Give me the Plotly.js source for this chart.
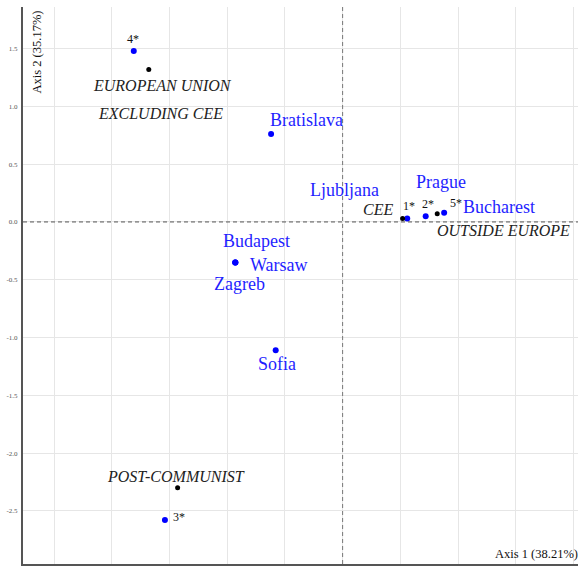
<!DOCTYPE html>
<html><head><meta charset="utf-8">
<script src="https://cdn.plot.ly/plotly-3.0.1.min.js"></script>
<style>body{margin:0;padding:0;background:#fff}#chart{width:578px;height:568px}</style>
</head><body><div id="chart"></div>
<script>
// Cities (blue points)
const cityNames = ["Bratislava","Ljubljana","Prague","Bucharest","Budapest","Warsaw","Zagreb","Sofia","",""];
const cityX = [-0.62, 0.56, 0.72, 0.88, -0.93, -0.93, -0.93, -0.58, -1.81, -1.54];
const cityY = [0.76, 0.03, 0.05, 0.08, -0.35, -0.35, -0.35, -1.11, 1.48, -2.58];
const cityStar = ["", "1*", "2*", "5*", "", "", "", "", "4*", "3*"];
// Categories (black points)
const catNames = ["EUROPEAN UNION<br>EXCLUDING CEE","CEE","OUTSIDE EUROPE","POST-COMMUNIST"];
const catX = [-1.68, 0.52, 0.82, -1.43];
const catY = [1.32, 0.03, 0.07, -2.30];
// Tick labels
const yTickVals = [1.5, 1.0, 0.5, 0.0, -0.5, -1.0, -1.5, -2.0, -2.5];
const yTickText = ["1.5","1.0","0.5","0.0","-0.5","-1.0","-1.5","-2.0","-2.5"];
const xTickVals = [-2.5,-2.0,-1.5,-1.0,-0.5,0.0,0.5,1.0,1.5,2.0];
const xTickText = ["-2.5","-2.0","-1.5","-1.0","-0.5","0.0","0.5","1.0","1.5","2.0"];
const axis1Title = "Axis 1 (38.21%)";
const axis2Title = "Axis 2 (35.17%)";

// label offsets (style, pixels)
const cityOff = {
  "Bratislava":[35,-14],"Ljubljana":[-63,-28],"Prague":[15,-34],"Bucharest":[55,-6],
  "Budapest":[21,-21],"Warsaw":[44,3],"Zagreb":[4,22],"Sofia":[1,14]
};
const starOff = {"1*":[2,-12],"2*":[2,-12],"5*":[12,-10],"4*":[-1,-12],"3*":[14,-3]};
const catOff = {"CEE":[-25,-9],"OUTSIDE EUROPE":[66,17],"POST-COMMUNIST":[-2,-11]};

const serif = "'Liberation Serif', 'Times New Roman', serif";
const annotations = [];
cityNames.forEach((n,i)=>{
  if(n){
    const o = cityOff[n];
    annotations.push({x:cityX[i],y:cityY[i],xref:'x',yref:'y',text:n,showarrow:false,
      xshift:o[0],yshift:-o[1],font:{family:serif,size:18,color:'#1f1fff'}});
  }
  const s = cityStar[i];
  if(s){
    const o = starOff[s];
    annotations.push({x:cityX[i],y:cityY[i],xref:'x',yref:'y',text:s,showarrow:false,
      xshift:o[0],yshift:-o[1],font:{family:serif,size:12,color:'#111'}});
  }
});
catNames.forEach((n,i)=>{
  const lines = n.split("<br>");
  if(lines.length>1){
    lines.forEach((ln,k)=>{
      annotations.push({x:catX[i],y:catY[i],xref:'x',yref:'y',text:'<i>'+ln+'</i>',showarrow:false,
        xshift:[14,12][k],yshift:-[16,44][k],font:{family:serif,size:16,color:'#222'}});
    });
  } else {
    const o = catOff[n];
    annotations.push({x:catX[i],y:catY[i],xref:'x',yref:'y',text:'<i>'+n+'</i>',showarrow:false,
      xshift:o[0],yshift:-o[1],font:{family:serif,size:16,color:'#222'}});
  }
});
annotations.push({x:1,y:0,xref:'paper',yref:'paper',xanchor:'right',yanchor:'bottom',yshift:1,xshift:2,
  text:axis1Title,showarrow:false,font:{family:serif,size:12.5,color:'#111'}});
annotations.push({x:0,y:1,xref:'paper',yref:'paper',xanchor:'left',yanchor:'top',xshift:4,yshift:-2,
  text:axis2Title,textangle:-90,showarrow:false,font:{family:serif,size:12.5,color:'#111'}});

const traces = [
  {x:cityX,y:cityY,mode:'markers',type:'scatter',marker:{color:'#0000ff',size:6},hoverinfo:'skip'},
  {x:catX,y:catY,mode:'markers',type:'scatter',marker:{color:'#000',size:5},hoverinfo:'skip'}
];
const layout = {
  width:578,height:568,showlegend:false,
  margin:{l:23,r:0,t:7,b:4},
  paper_bgcolor:'#fff',plot_bgcolor:'#fff',
  xaxis:{range:[-2.77,2.04],tickvals:xTickVals,ticktext:xTickText,showgrid:true,gridcolor:'#e6e6e6',
    zeroline:false,showline:true,linecolor:'#555',linewidth:2,mirror:false,ticks:'',
    tickfont:{family:serif,size:8,color:'#555'}},
  yaxis:{range:[-2.96,1.86],tickvals:yTickVals,ticktext:yTickText,showgrid:true,gridcolor:'#e6e6e6',
    zeroline:false,showline:true,linecolor:'#555',linewidth:2,mirror:false,ticks:'',
    tickfont:{family:serif,size:7,color:'#555'},ticklabelstandoff:2},
  shapes:[
    {type:'line',xref:'x',yref:'paper',x0:0,x1:0,y0:0,y1:1,line:{color:'#777',width:1,dash:'4px,3px'}},
    {type:'line',xref:'paper',yref:'y',x0:0,x1:1,y0:0,y1:0,line:{color:'#555',width:1,dash:'4px,3px'}}
  ],
  annotations:annotations
};
Plotly.newPlot('chart',traces,layout,{displayModeBar:false,staticPlot:true});
</script></body></html>
